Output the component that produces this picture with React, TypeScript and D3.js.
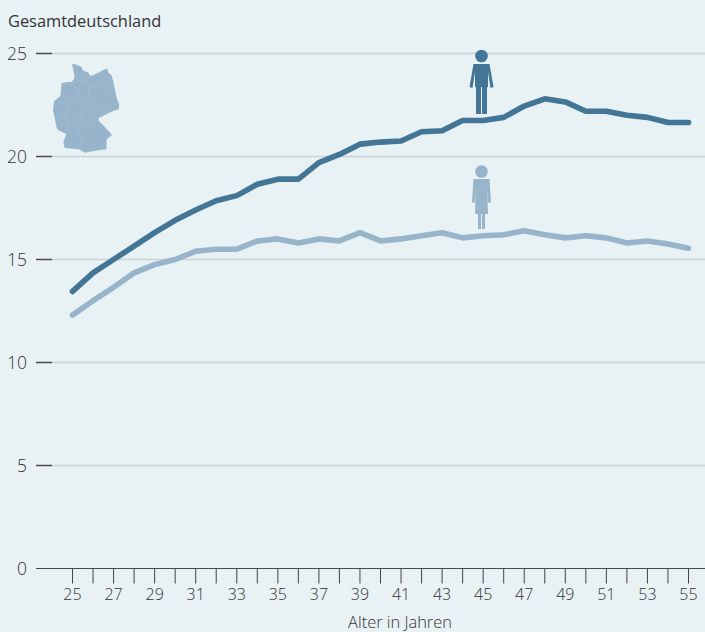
import React from "react";
import * as d3 from "d3";

const title = "Gesamtdeutschland";
const xTitle = "Alter in Jahren";
const ages = d3.range(25, 56);
const yTicks = [0, 5, 10, 15, 20, 25];
const xLabels = d3.range(25, 56, 2);
const men = [13.45, 14.35, 15.0, 15.65, 16.3, 16.9, 17.4, 17.85, 18.1, 18.65, 18.9, 18.9, 19.7, 20.1, 20.6, 20.7, 20.75, 21.2, 21.25, 21.75, 21.75, 21.9, 22.45, 22.8, 22.65, 22.2, 22.2, 22.0, 21.9, 21.65, 21.65];
const women = [12.3, 13.0, 13.65, 14.35, 14.75, 15.0, 15.4, 15.5, 15.5, 15.9, 16.0, 15.8, 16.0, 15.9, 16.3, 15.9, 16.0, 16.15, 16.3, 16.05, 16.15, 16.2, 16.4, 16.2, 16.05, 16.15, 16.05, 15.8, 15.9, 15.75, 15.55];

const BG = "#e8f1f3";
const DARK = "#437596";
const LIGHT = "#97b4ca";
const FONT = "'Open Sans', sans-serif";

const x = d3.scaleLinear().domain([25, 55]).range([72.5, 688.5]);
const y = d3.scaleLinear().domain([0, 25]).range([568.5, 53.5]);
const line = d3.line<number>().x((_, i) => x(ages[i])).y((d) => y(d)).curve(d3.curveLinear);

const mapPoints: [number, number][] = [[72, 12], [85, 14], [100, 20], [106, 32], [120, 37], [127, 48], [138, 44], [150, 38], [170, 28], [178, 26], [181, 38], [191, 46], [197, 70], [202, 95], [207, 118], [214, 135], [212, 148], [195, 153], [172, 164], [152, 174], [153, 184], [168, 198], [192, 225], [176, 238], [175, 268], [142, 272], [110, 278], [93, 268], [50, 264], [46, 245], [55, 222], [34, 212], [26, 205], [22, 182], [15, 150], [18, 124], [37, 108], [39, 88], [41, 70], [58, 66], [72, 66], [80, 52], [76, 30]];
const mapOutline = d3.line().curve(d3.curveLinearClosed)(mapPoints)!;
const mapBorders = "M42 70 L70 75 L90 60 L80 50 M90 60 L115 70 L125 48 M125 85 L150 75 L190 60 M115 70 L125 85 L120 110 L120 130 L105 150 L95 130 L85 115 L95 95 L75 75 M85 115 L60 135 L30 125 M60 135 L55 165 L25 175 M55 165 L62 190 L60 220 M105 150 L95 165 L70 185 L62 190 M95 165 L108 190 L140 170 L150 172 M120 130 L150 145 L170 165 M108 190 L85 205 L100 240 L105 275 M170 95 L182 92 L186 102 L172 103 Z";

export default function App() {
  return (
    <svg width={705} height={632} viewBox="0 0 705 632" style={{ position: "absolute", left: 0, top: 0, background: BG, fontFamily: FONT }}>
      <rect width={705} height={632} fill={BG} />
      {yTicks.filter((t) => t > 0).map((t) => (
        <line key={t} x1={36} x2={705} y1={y(t)} y2={y(t)} stroke="#cbd3d5" strokeWidth={1.6} />
      ))}
      {yTicks.map((t) => (
        <g key={t}>
          <line x1={36} x2={t === 0 ? 705 : 52} y1={y(t)} y2={y(t)} stroke="#4a4a4a" strokeWidth={t === 0 ? 1.2 : 1.4} />
          <text x={27} y={y(t) + 6.5} textAnchor="end" fontSize={17.5} fontWeight={300} fill="#333">{t}</text>
        </g>
      ))}
      {ages.map((a) => (
        <line key={a} x1={x(a)} x2={x(a)} y1={y(0)} y2={y(0) + 15} stroke="#444" strokeWidth={1} />
      ))}
      {xLabels.map((a) => (
        <text key={a} x={x(a)} y={600} textAnchor="middle" fontSize={16} fontWeight={300} fill="#333">{a}</text>
      ))}
      <text x={400} y={628} textAnchor="middle" fontSize={16.4} fontWeight={300} fill="#333">{xTitle}</text>
      <text x={8} y={27} fontSize={16.4} fontWeight={400} fill="#333">{title}</text>

      <path d={line(women)!} fill="none" stroke={LIGHT} strokeWidth={5.6} strokeLinecap="round" strokeLinejoin="round" />
      <path d={line(men)!} fill="none" stroke={DARK} strokeWidth={5.6} strokeLinecap="round" strokeLinejoin="round" />

      <g transform="translate(48,60) scale(0.3333)">
        <path d={mapOutline} fill={LIGHT} />
        <path d={mapBorders} fill="none" stroke="#adc5d6" strokeWidth={1.4} />
      </g>

      {/* man */}
      <g fill={DARK}>
        <circle cx={481.5} cy={56} r={6.3} />
        <path d="M473.5 64 L489.5 64 L493.5 87 L490.5 88 L488 72 L488 87 L475 87 L475 72 L472.5 88 L469.5 87 Z" />
        <rect x={476} y={87} width={5} height={27} />
        <rect x={482} y={87} width={5} height={27} />
      </g>
      {/* woman */}
      <g fill={LIGHT}>
        <circle cx={481.5} cy={171.5} r={6.3} />
        <path d="M473.5 179 L472 202.5 L475 202.5 L476 186 L475 214 L488 214 L487 186 L488 202.5 L491 202.5 L489.5 179 Z" />
        <rect x={478} y={214} width={3} height={15} />
        <rect x={482} y={214} width={3} height={15} />
      </g>
    </svg>
  );
}
